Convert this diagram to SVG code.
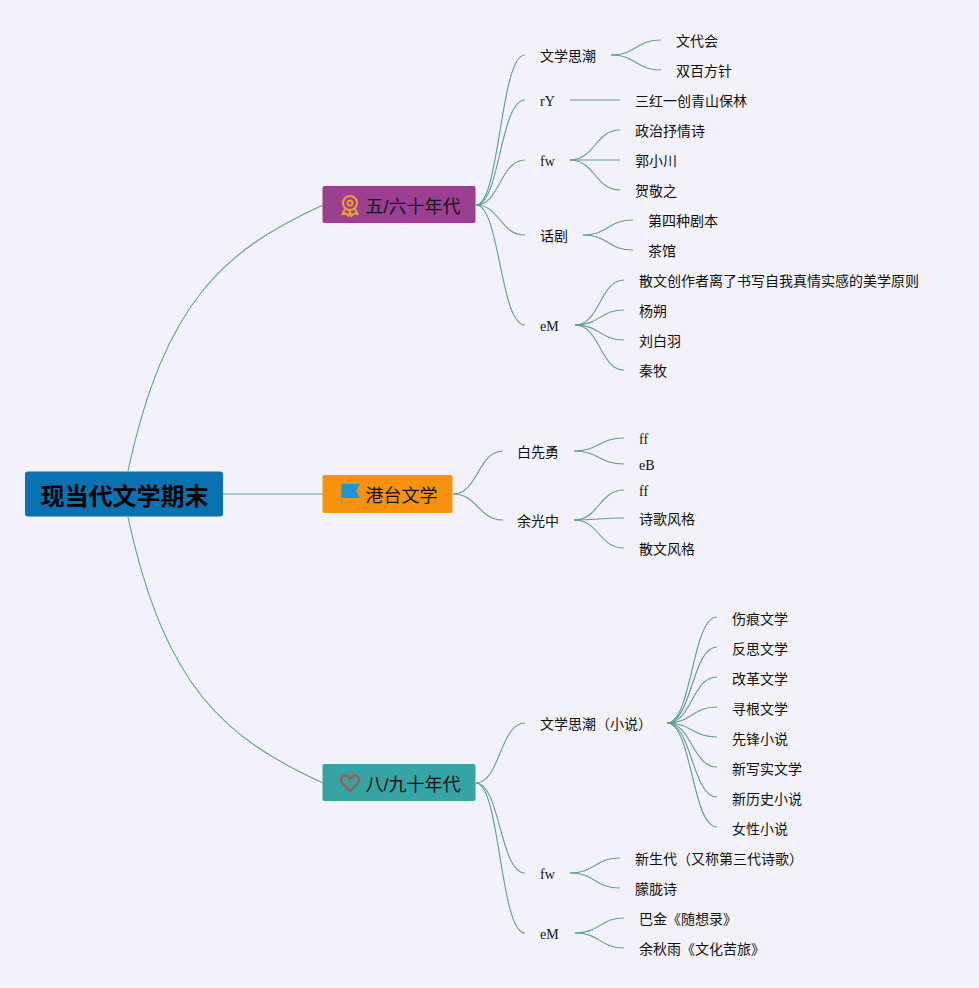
<svg xmlns="http://www.w3.org/2000/svg" width="979" height="988" viewBox="0 0 979 988">
<style>
text{font-family:"Liberation Serif","Noto Sans CJK SC",serif;fill:#111;}
.l{font-size:14px}
.b{font-size:18px;font-family:"Liberation Sans","Noto Sans CJK SC",sans-serif}
.r{font-size:24px;font-weight:700;font-family:"Liberation Sans","Noto Sans CJK SC",sans-serif;text-anchor:middle;fill:#000}
#connectors path{fill:none;stroke:#5f9e90;stroke-width:1.100}
</style>
<rect width="979" height="988" fill="#f3f2fa"/>
<g id="connectors">
<path d="M128 471C165 300 225 250 323 205"/>
<path d="M128 517C165 688 225 738 323 783"/>
<path d="M223 494H323"/>
<path d="M476 205C500 205 500 55 525 55"/>
<path d="M476 205C500 205 500 100 525 100"/>
<path d="M476 205C500 205 500 160 525 160"/>
<path d="M476 205C500 205 500 235 525 235"/>
<path d="M476 205C500 205 500 325 525 325"/>
<path d="M611 55C636 55 636 40 661 40"/>
<path d="M611 55C636 55 636 70 661 70"/>
<path d="M570 100H620"/>
<path d="M570 160C595 160 595 130 620 130"/>
<path d="M570 160H620"/>
<path d="M570 160C595 160 595 190 620 190"/>
<path d="M583 235C608 235 608 220 633 220"/>
<path d="M583 235C608 235 608 250 633 250"/>
<path d="M575 325C600 325 600 280 624 280"/>
<path d="M575 325C600 325 600 310 624 310"/>
<path d="M575 325C600 325 600 340 624 340"/>
<path d="M575 325C600 325 600 370 624 370"/>
<path d="M453 494C478 494 478 451 503 451"/>
<path d="M453 494C478 494 478 520 503 520"/>
<path d="M574 451C599 451 599 438 624 438"/>
<path d="M574 451C599 451 599 464 624 464"/>
<path d="M574 520C599 520 599 490 624 490"/>
<path d="M574 520C599 520 599 518 624 518"/>
<path d="M574 520C599 520 599 548 624 548"/>
<path d="M476 783C500 783 500 723 525 723"/>
<path d="M476 783C500 783 500 873 525 873"/>
<path d="M476 783C500 783 500 933 525 933"/>
<path d="M667 723C692 723 692 617 717 617"/>
<path d="M667 723C692 723 692 647 717 647"/>
<path d="M667 723C692 723 692 677 717 677"/>
<path d="M667 723C692 723 692 707 717 707"/>
<path d="M667 723C692 723 692 737 717 737"/>
<path d="M667 723C692 723 692 767 717 767"/>
<path d="M667 723C692 723 692 797 717 797"/>
<path d="M667 723C692 723 692 827 717 827"/>
<path d="M570 873C595 873 595 858 620 858"/>
<path d="M570 873C595 873 595 888 620 888"/>
<path d="M575 933C600 933 600 918 624 918"/>
<path d="M575 933C600 933 600 948 624 948"/>
</g>
<g id="root"><rect x="25" y="471.500" width="198" height="45" rx="3" fill="#0a72b0"/><text class="r" x="124.500" y="505">现当代文学期末</text></g>
<g id="b1"><rect x="322.500" y="186" width="153" height="37" rx="2" fill="#9c3f93"/>
<g fill="none" stroke="#f0a030" stroke-width="2"><circle cx="350" cy="203" r="7"/><circle cx="350" cy="203" r="2.500"/><path d="M345 209L342.500 214L346 213.500L348.500 216L350 211.500L351.500 216L354 213.500L357.500 214L355 209"/></g>
<text class="b" x="365.500" y="212.500">五/六十年代</text></g>
<g id="b2"><rect x="322.500" y="475" width="130" height="38" rx="2" fill="#f7920f"/>
<path d="M342 484H360L356 491L360 498H342Z" fill="#1a96d8"/><path d="M341.500 484V504" stroke="#6a9a88" stroke-width="1"/>
<text class="b" x="365.500" y="501.500">港台文学</text></g>
<g id="b3"><rect x="322.500" y="764" width="153" height="37" rx="2" fill="#36a3a5"/>
<path d="M350 791L343 784C338 778 343 775 346 775.500C348 776 349.500 777.500 350 779C350.500 777.500 352 776 354 775.500C357 775 362 778 357 784Z" fill="none" stroke="#b5503f" stroke-width="2"/>
<text class="b" x="365.500" y="790.500">八/九十年代</text></g>
<g id="n1"><text class="l" x="540" y="61">文学思潮</text></g>
<g id="n2"><text class="l" x="676" y="46">文代会</text></g>
<g id="n3"><text class="l" x="676" y="76">双百方针</text></g>
<g id="n4"><text class="l" x="540" y="106">rY</text></g>
<g id="n5"><text class="l" x="635" y="106">三红一创青山保林</text></g>
<g id="n6"><text class="l" x="540" y="166">fw</text></g>
<g id="n7"><text class="l" x="635" y="136">政治抒情诗</text></g>
<g id="n8"><text class="l" x="635" y="166">郭小川</text></g>
<g id="n9"><text class="l" x="635" y="196">贺敬之</text></g>
<g id="n10"><text class="l" x="540" y="241">话剧</text></g>
<g id="n11"><text class="l" x="648" y="226">第四种剧本</text></g>
<g id="n12"><text class="l" x="648" y="256">茶馆</text></g>
<g id="n13"><text class="l" x="540" y="331">eM</text></g>
<g id="n14"><text class="l" x="639" y="286">散文创作者离了书写自我真情实感的美学原则</text></g>
<g id="n15"><text class="l" x="639" y="316">杨朔</text></g>
<g id="n16"><text class="l" x="639" y="346">刘白羽</text></g>
<g id="n17"><text class="l" x="639" y="376">秦牧</text></g>
<g id="n18"><text class="l" x="517" y="457">白先勇</text></g>
<g id="n19"><text class="l" x="639" y="444">ff</text></g>
<g id="n20"><text class="l" x="639" y="470">eB</text></g>
<g id="n21"><text class="l" x="517" y="526">余光中</text></g>
<g id="n22"><text class="l" x="639" y="496">ff</text></g>
<g id="n23"><text class="l" x="639" y="524">诗歌风格</text></g>
<g id="n24"><text class="l" x="639" y="554">散文风格</text></g>
<g id="n25"><text class="l" x="540" y="729">文学思潮（小说）</text></g>
<g id="n26"><text class="l" x="732" y="624">伤痕文学</text></g>
<g id="n27"><text class="l" x="732" y="654">反思文学</text></g>
<g id="n28"><text class="l" x="732" y="684">改革文学</text></g>
<g id="n29"><text class="l" x="732" y="714">寻根文学</text></g>
<g id="n30"><text class="l" x="732" y="744">先锋小说</text></g>
<g id="n31"><text class="l" x="732" y="774">新写实文学</text></g>
<g id="n32"><text class="l" x="732" y="804">新历史小说</text></g>
<g id="n33"><text class="l" x="732" y="834">女性小说</text></g>
<g id="n34"><text class="l" x="540" y="879">fw</text></g>
<g id="n35"><text class="l" x="635" y="864">新生代（又称第三代诗歌）</text></g>
<g id="n36"><text class="l" x="635" y="894">朦胧诗</text></g>
<g id="n37"><text class="l" x="540" y="939">eM</text></g>
<g id="n38"><text class="l" x="639" y="924">巴金《随想录》</text></g>
<g id="n39"><text class="l" x="639" y="954">余秋雨《文化苦旅》</text></g>
</svg>
